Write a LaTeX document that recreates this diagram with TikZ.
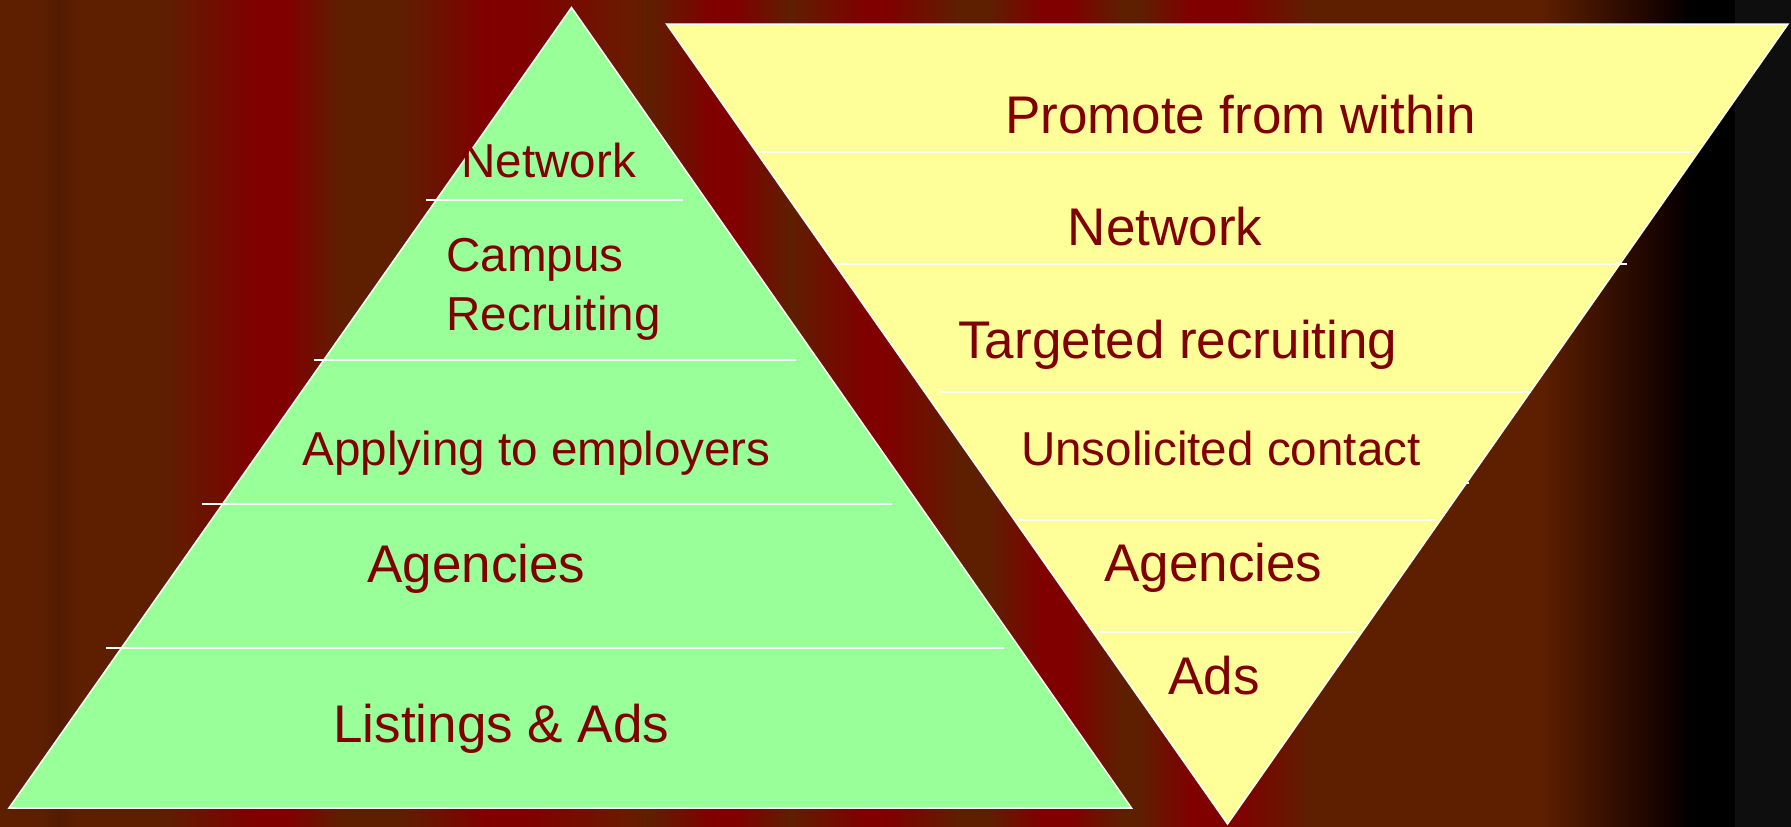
\documentclass[tikz,border=0pt]{standalone}
\usepackage{fontspec}
\setmainfont{Liberation Sans}
\definecolor{bgbrown}{HTML}{5E1F00}
\definecolor{bgdark}{HTML}{521B00}
\definecolor{bgred}{HTML}{800000}
\definecolor{bgmid}{HTML}{6A1A00}
\definecolor{bgnight}{HTML}{150200}
\definecolor{bggray}{HTML}{0E0E0E}
\definecolor{pyrgreen}{HTML}{99FF99}
\definecolor{pyryellow}{HTML}{FFFF99}
\definecolor{labelred}{HTML}{800000}

\begin{document}
\begin{tikzpicture}[x=0.5pt,y=-0.5pt]

  \tikzstyle{pyramid}=[draw=white,line width=0.75pt,line join=miter];
  \tikzstyle{divider}=[draw=white,line width=0.75pt];
  \tikzstyle{biglabel}=[anchor=base west,inner sep=0pt,text=labelred,
    font=\fontsize{26.5}{31}\selectfont];
  \tikzstyle{smalllabel}=[biglabel,font=\fontsize{23.8}{29.2}\selectfont];

  % striped backdrop
  \useasboundingbox (0,0) rectangle (1791,826);
  \fill[bgbrown] (-4,-4) rectangle (1795,830);
  \foreach \xa/\ca/\xb/\cb in {40/bgbrown/58/bgdark, 58/bgdark/76/bgbrown,
      165/bgbrown/255/bgred, 255/bgred/288/bgred, 288/bgred/340/bgbrown,
      400/bgbrown/485/bgred, 485/bgred/525/bgred, 525/bgred/625/bgmid,
      625/bgmid/650/bgbrown, 650/bgbrown/712/bgred, 712/bgred/735/bgred,
      735/bgred/790/bgbrown, 790/bgbrown/865/bgred, 865/bgred/885/bgred,
      885/bgred/960/bgbrown, 990/bgbrown/1040/bgred, 1040/bgred/1070/bgred,
      1070/bgred/1120/bgbrown, 1140/bgbrown/1190/bgred, 1190/bgred/1235/bgred,
      1235/bgred/1310/bgbrown, 1540/bgbrown/1665/bgnight,
      1665/bgnight/1690/black, 1690/black/1735/black, 1735/bggray/1794/bggray}
    \shade[left color=\ca,right color=\cb] (\xa,-4) rectangle (\xb+1,830);

  % the two pyramids
  \path[pyramid,fill=pyrgreen] (9,808) -- (571.5,7.5) -- (1131.5,808) -- cycle;
  \path[pyramid,fill=pyryellow] (666.5,24) -- (1788,24) -- (1227.5,824) -- cycle;

  % layers, left
  \path[divider] (426,200) -- (683,200);
  \path[divider] (314,360) -- (796,360);
  \path[divider] (202,504) -- (892,504);
  \path[divider] (106,648) -- (1004,648);

  % layers, right
  \path[divider] (759.5,152) -- (1692.5,152);
  \path[divider] (837,264) -- (1627,264);
  \path[divider] (939,392) -- (1531,392);
  \path[divider] (1018,520) -- (1436,520);
  \path[divider] (1097,632) -- (1356,632);
  \path[divider] (1464,483) -- (1469,483);

  \node[smalllabel] (lnetwork)  at (461,177)   {Network};
  \node[smalllabel,align=left] (lcampus) at (446,330) {Campus\\Recruiting};
  \node[smalllabel] (lapplying) at (302,465)   {Applying to employers};
  \node[biglabel]   (lagencies) at (367,582.7) {Agencies};
  \node[biglabel]   (llistings) at (333,742.7) {Listings \& Ads};

  \node[biglabel]   (rpromote)  at (1004.6,133.3) {Promote from within};
  \node[biglabel]   (rnetwork)  at (1067.5,245.6) {Network};
  \node[biglabel]   (rtargeted) at (958,358.3)    {Targeted recruiting};
  \node[smalllabel] (runsolic)  at (1020.7,465)   {Unsolicited contact};
  \node[biglabel]   (ragencies) at (1104,581.7)   {Agencies};
  \node[biglabel]   (rads)      at (1168,694)     {Ads};

\end{tikzpicture}
\end{document}
